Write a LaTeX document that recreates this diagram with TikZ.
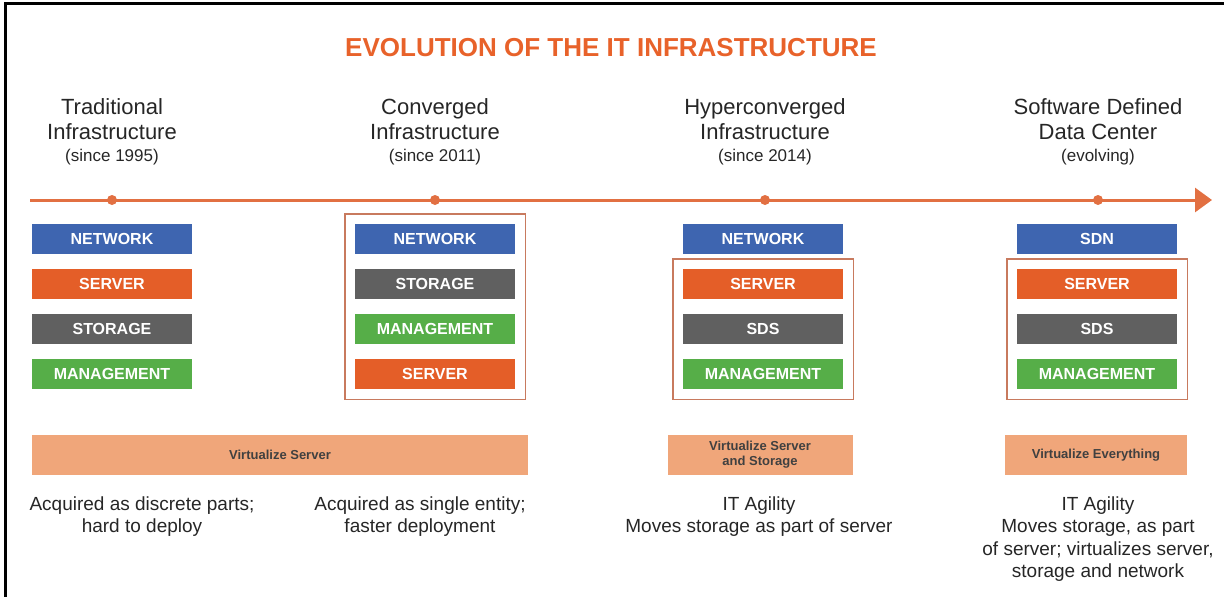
\documentclass[tikz,border=0pt]{standalone}
\usepackage{fontspec}
\setmainfont{Liberation Sans}
\usepackage{xcolor}
\usepackage{tikz}
\usetikzlibrary{positioning,fit,arrows.meta}

\definecolor{titleorange}{RGB}{232,98,42}
\definecolor{lineorange}{RGB}{226,112,66}
\definecolor{netblue}{RGB}{62,101,176}
\definecolor{srvorange}{RGB}{228,94,40}
\definecolor{stggray}{RGB}{96,96,96}
\definecolor{mgmtgreen}{RGB}{86,174,72}
\definecolor{barsalmon}{RGB}{240,166,122}
\definecolor{groupline}{RGB}{200,122,94}

\begin{document}
\begin{tikzpicture}[
    x=1pt, y=-1pt,
    heading/.style={align=center, font=\fontsize{22}{25}\selectfont, text=black!85},
    since/.style={font=\fontsize{17}{20}\selectfont, text=black!85},
    dot/.style={circle, fill=lineorange, minimum size=10pt, inner sep=0pt},
    layer/.style={rectangle, minimum width=160pt, minimum height=30pt, inner sep=0pt, text=white, font=\bfseries\fontsize{16}{18}\selectfont},
    net/.style={layer, fill=netblue},
    srv/.style={layer, fill=srvorange},
    stg/.style={layer, fill=stggray},
    mgmt/.style={layer, fill=mgmtgreen},
    group/.style={draw=groupline, line width=1.4pt, inner sep=10pt},
    vbar/.style={rectangle, fill=barsalmon, minimum height=40pt, inner sep=0pt, align=center, text=black!75, font=\bfseries\fontsize{13}{15}\selectfont},
    note/.style={align=center, text=black!85, font=\fontsize{19}{22.5}\selectfont}
]
\useasboundingbox (0,0) rectangle (1224,597);

% frame
\draw[line width=2.2pt] (5.5,597) -- (5.5,3.5) -- (1224,3.5);

% title
\node[font=\bfseries\fontsize{26}{30}\selectfont, text=titleorange] (title) at (611,48) {EVOLUTION OF THE IT INFRASTRUCTURE};

% headings
\node[heading] (h1) at (112,119) {Traditional\\Infrastructure};
\node[since] (s1) at (112,157) {(since 1995)};
\node[heading] (h2) at (435,119) {Converged\\Infrastructure};
\node[since] (s2) at (435,157) {(since 2011)};
\node[heading] (h3) at (765,119) {Hyperconverged\\Infrastructure};
\node[since] (s3) at (765,157) {(since 2014)};
\node[heading] (h4) at (1098,119) {Software Defined\\Data Center};
\node[since] (s4) at (1098,157) {(evolving)};

% timeline
\coordinate (tstart) at (30,200);
\coordinate (tend) at (1212,200);
\draw[lineorange, line width=3pt, -{Triangle[length=17pt,width=24pt]}] (tstart) -- (tend);
\node[dot] (d1) at (112,200) {};
\node[dot] (d2) at (435,200) {};
\node[dot] (d3) at (765,200) {};
\node[dot] (d4) at (1098,200) {};

% traditional stack
\node[net] (t1net) at (112,239) {NETWORK};
\node[srv] (t1srv) at (112,284) {SERVER};
\node[stg] (t1stg) at (112,329) {STORAGE};
\node[mgmt] (t1mgmt) at (112,374) {MANAGEMENT};

% converged stack
\node[net] (c2net) at (435,239) {NETWORK};
\node[stg] (c2stg) at (435,284) {STORAGE};
\node[mgmt] (c2mgmt) at (435,329) {MANAGEMENT};
\node[srv] (c2srv) at (435,374) {SERVER};
\node[group, fit=(c2net)(c2srv)] (c2box) {};

% hyperconverged stack
\node[net] (h3net) at (763,239) {NETWORK};
\node[srv] (h3srv) at (763,284) {SERVER};
\node[stg] (h3sds) at (763,329) {SDS};
\node[mgmt] (h3mgmt) at (763,374) {MANAGEMENT};
\node[group, fit=(h3srv)(h3mgmt)] (h3box) {};

% software defined stack
\node[net] (s4sdn) at (1097,239) {SDN};
\node[srv] (s4srv) at (1097,284) {SERVER};
\node[stg] (s4sds) at (1097,329) {SDS};
\node[mgmt] (s4mgmt) at (1097,374) {MANAGEMENT};
\node[group, fit=(s4srv)(s4mgmt)] (s4box) {};

% virtualization bars
\node[vbar, minimum width=496pt] (v1) at (280,455) {Virtualize Server};
\node[vbar, minimum width=185pt] (v3) at (760,455) {Virtualize Server\\and Storage};
\node[vbar, minimum width=182pt] (v4) at (1096,455) {Virtualize Everything};

% notes
\node[note, anchor=north] (n1) at (142,493) {Acquired as discrete parts;\\hard to deploy};
\node[note, anchor=north] (n2) at (420,493) {Acquired as single entity;\\faster deployment};
\node[note, anchor=north] (n3) at (759,493) {IT Agility\\Moves storage as part of server};
\node[note, anchor=north] (n4) at (1098,493) {IT Agility\\Moves storage, as part\\of server; virtualizes server,\\storage and network};

\end{tikzpicture}
\end{document}
